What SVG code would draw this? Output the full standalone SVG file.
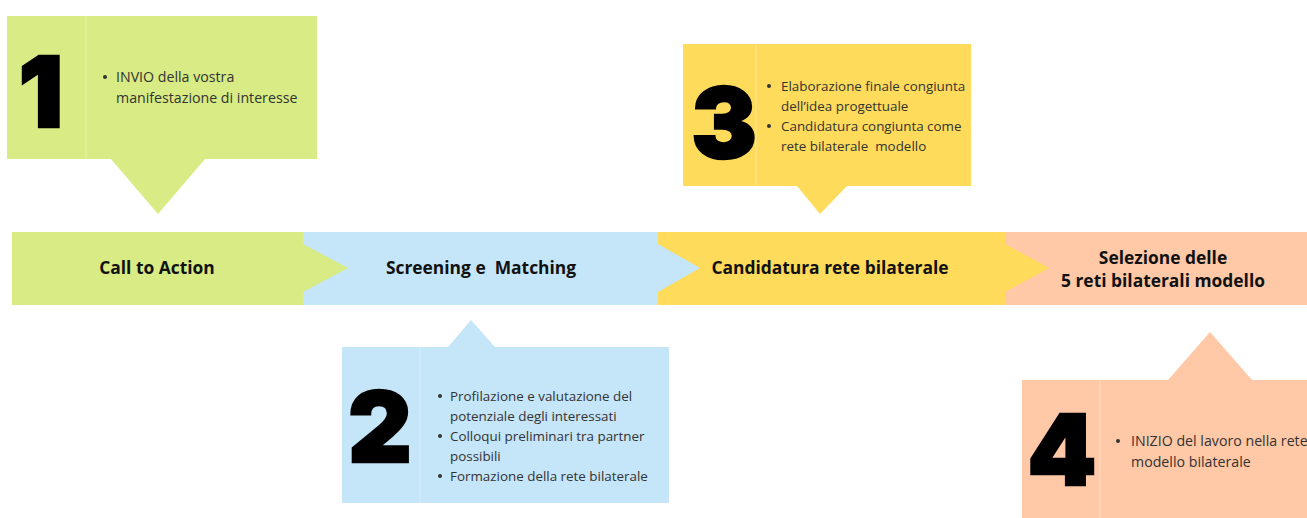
<svg xmlns="http://www.w3.org/2000/svg" width="1307" height="518" viewBox="0 0 1307 518">
<style>
.green{fill:#D8EB84}
.blue{fill:#C5E5F8}
.yellow{fill:#FEDB5B}
.peach{fill:#FFC8A6}
.div{stroke:#ffffff;stroke-opacity:0.35;stroke-width:1}
text{white-space:pre}
.num{font-family:Inter,"DejaVu Sans",sans-serif;font-weight:900;font-size:98px;fill:#000;stroke:#000;stroke-width:2.5;text-anchor:middle}
.bul{font-family:"Open Sans","Noto Sans",sans-serif;font-size:13.4px;fill:#333}
.bl{font-size:14.2px}
.lbl{font-family:"Open Sans","Noto Sans",sans-serif;font-weight:bold;font-size:17.4px;fill:#111;text-anchor:middle}
</style>
<rect width="1307" height="518" fill="#fff"/>
<g id="band">
  <g id="stage2"><rect class="blue" x="303" y="232" width="355" height="73"/><text class="lbl" x="481" y="274" xml:space="preserve">Screening e  Matching</text></g>
  <g id="stage4"><rect class="peach" x="1005" y="232" width="302" height="73"/><text class="lbl" x="1163" y="264">Selezione delle</text><text class="lbl" x="1163" y="287">5 reti bilaterali modello</text></g>
  <g id="stage3"><path class="yellow" d="M658 232H1005V244L1049 268L1005 292V305H658Z"/><text class="lbl" x="830" y="274">Candidatura rete bilaterale</text></g>
  <g id="stage1"><path class="green" d="M12 232H303V244L348 268L303 292V305H12Z"/><text class="lbl" x="157" y="274">Call to Action</text></g>
  <path class="blue" d="M658 244L700 268L658 292Z"/>
</g>
<g id="callout1">
  <path class="green" d="M7 16H317V159H205L158 214L111 159H7Z"/>
  <line class="div" x1="86" y1="16" x2="86" y2="159"/>
  <text class="num" x="41" y="127">1</text>
  <circle cx="105" cy="77" r="2" fill="#333"/>
  <text class="bul bl" x="116" y="82">INVIO della vostra</text>
  <text class="bul bl" x="116" y="103">manifestazione di interesse</text>
</g>
<g id="callout3">
  <path class="yellow" d="M683 44H971V186H847L820 214L797 186H683Z"/>
  <line class="div" x1="756" y1="44" x2="756" y2="186"/>
  <text class="num" x="724" y="158">3</text>
  <circle cx="769" cy="86" r="2" fill="#333"/>
  <text class="bul" x="781" y="91">Elaborazione finale congiunta</text>
  <text class="bul" x="781" y="111">dell’idea progettuale</text>
  <circle cx="769" cy="126" r="2" fill="#333"/>
  <text class="bul" x="781" y="131">Candidatura congiunta come</text>
  <text class="bul" x="781" y="151" xml:space="preserve">rete bilaterale  modello</text>
</g>
<g id="callout2">
  <path class="blue" d="M342 347H448L471 320L495 347H669V503H342Z"/>
  <line class="div" x1="420" y1="347" x2="420" y2="503"/>
  <text class="num" x="380" y="462">2</text>
  <circle cx="440" cy="396" r="2" fill="#333"/>
  <text class="bul" x="450" y="401">Profilazione e valutazione del</text>
  <text class="bul" x="450" y="421">potenziale degli interessati</text>
  <circle cx="440" cy="436" r="2" fill="#333"/>
  <text class="bul" x="450" y="441">Colloqui preliminari tra partner</text>
  <text class="bul" x="450" y="461">possibili</text>
  <circle cx="440" cy="476" r="2" fill="#333"/>
  <text class="bul" x="450" y="481">Formazione della rete bilaterale</text>
</g>
<g id="callout4">
  <path class="peach" d="M1022 380H1168L1210 332L1252 380H1307V518H1022Z"/>
  <line class="div" x1="1100" y1="380" x2="1100" y2="518"/>
  <text class="num" x="1062" y="485">4</text>
  <circle cx="1118" cy="441" r="2" fill="#333"/>
  <text class="bul bl" x="1131" y="446">INIZIO del lavoro nella rete</text>
  <text class="bul bl" x="1131" y="467">modello bilaterale</text>
</g>
<g id="connectors"></g>
</svg>
